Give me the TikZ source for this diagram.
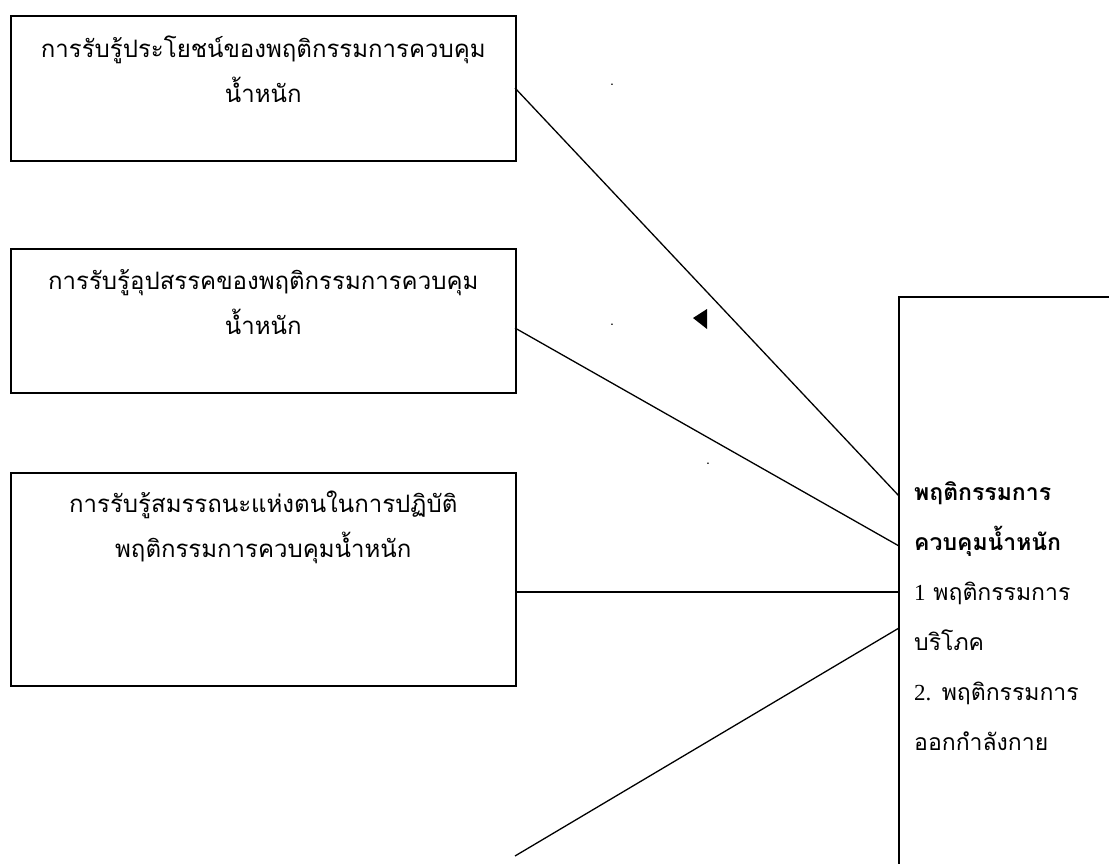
\documentclass[tikz,border=0pt]{standalone}
\usepackage{fontspec}
\setmainfont[Script=Thai]{Loma}
\newfontfamily\latinserif{Liberation Serif}
\begin{document}
\begin{tikzpicture}[x=1pt,y=-1pt,
  box/.style={draw, line width=1.6pt, inner sep=0pt, anchor=north west},
  conn/.style={line width=1.3pt},
  dotmark/.style={inner sep=0pt, font=\fontsize{14}{14}\selectfont}]
\useasboundingbox (0,0) rectangle (1109,864);
\node[box] (b1) at (10,15) {\parbox[c][145pt][t]{505pt}{\centering\fontsize{24}{45}\selectfont
  \rule{0pt}{42pt}การรับรู้ประโยชน์ของพฤติกรรมการควบคุม\\น้ำหนัก}};
\node[box] (b2) at (10,248) {\parbox[c][144pt][t]{505pt}{\centering\fontsize{24}{45}\selectfont
  \rule{0pt}{41pt}การรับรู้อุปสรรคของพฤติกรรมการควบคุม\\น้ำหนัก}};
\node[box] (b3) at (10,472) {\parbox[c][213pt][t]{505pt}{\centering\fontsize{24}{45}\selectfont
  \rule{0pt}{40pt}การรับรู้สมรรถนะแห่งตนในการปฏิบัติ\\พฤติกรรมการควบคุมน้ำหนัก}};
% right box (open on right and bottom)
\coordinate (rtr) at (1109,297);
\coordinate (rtl) at (899,297);
\coordinate (rbl) at (899,864);
\draw[line width=1.6pt] (rtr) -- (rtl) -- (rbl);
\node[anchor=north west, inner sep=0pt, align=left, font=\fontsize{23}{50}\selectfont] (rt) at (914,481)
  {\textbf{พฤติกรรมการ}\\\textbf{ควบคุมน้ำหนัก}\\{\latinserif 1} พฤติกรรมการ\\บริโภค\\{\latinserif 2.} พฤติกรรมการ\\ออกกำลังกาย};
% connector end points on the right box
\coordinate (r1) at (899,496);
\coordinate (r2) at (899,546);
\coordinate (r3) at (899,592);
\coordinate (r4) at (899,628);
\coordinate (s1) at (515,88);
\coordinate (s2) at (515,328);
\coordinate (s3) at (515,592);
\coordinate (s4) at (515,856);
\draw[conn] (s1) -- (r1);
\draw[conn] (s2) -- (r2);
\draw[conn] (s3) -- (r3);
\draw[conn] (s4) -- (r4);
% arrowhead
\fill (693,318) -- (707,309) -- (707,329) -- cycle;
% stray dots
\node[dotmark] (d1) at (612,85) {.};
\node[dotmark] (d2) at (612,325) {.};
\node[dotmark] (d3) at (708,464) {.};
\end{tikzpicture}
\end{document}
